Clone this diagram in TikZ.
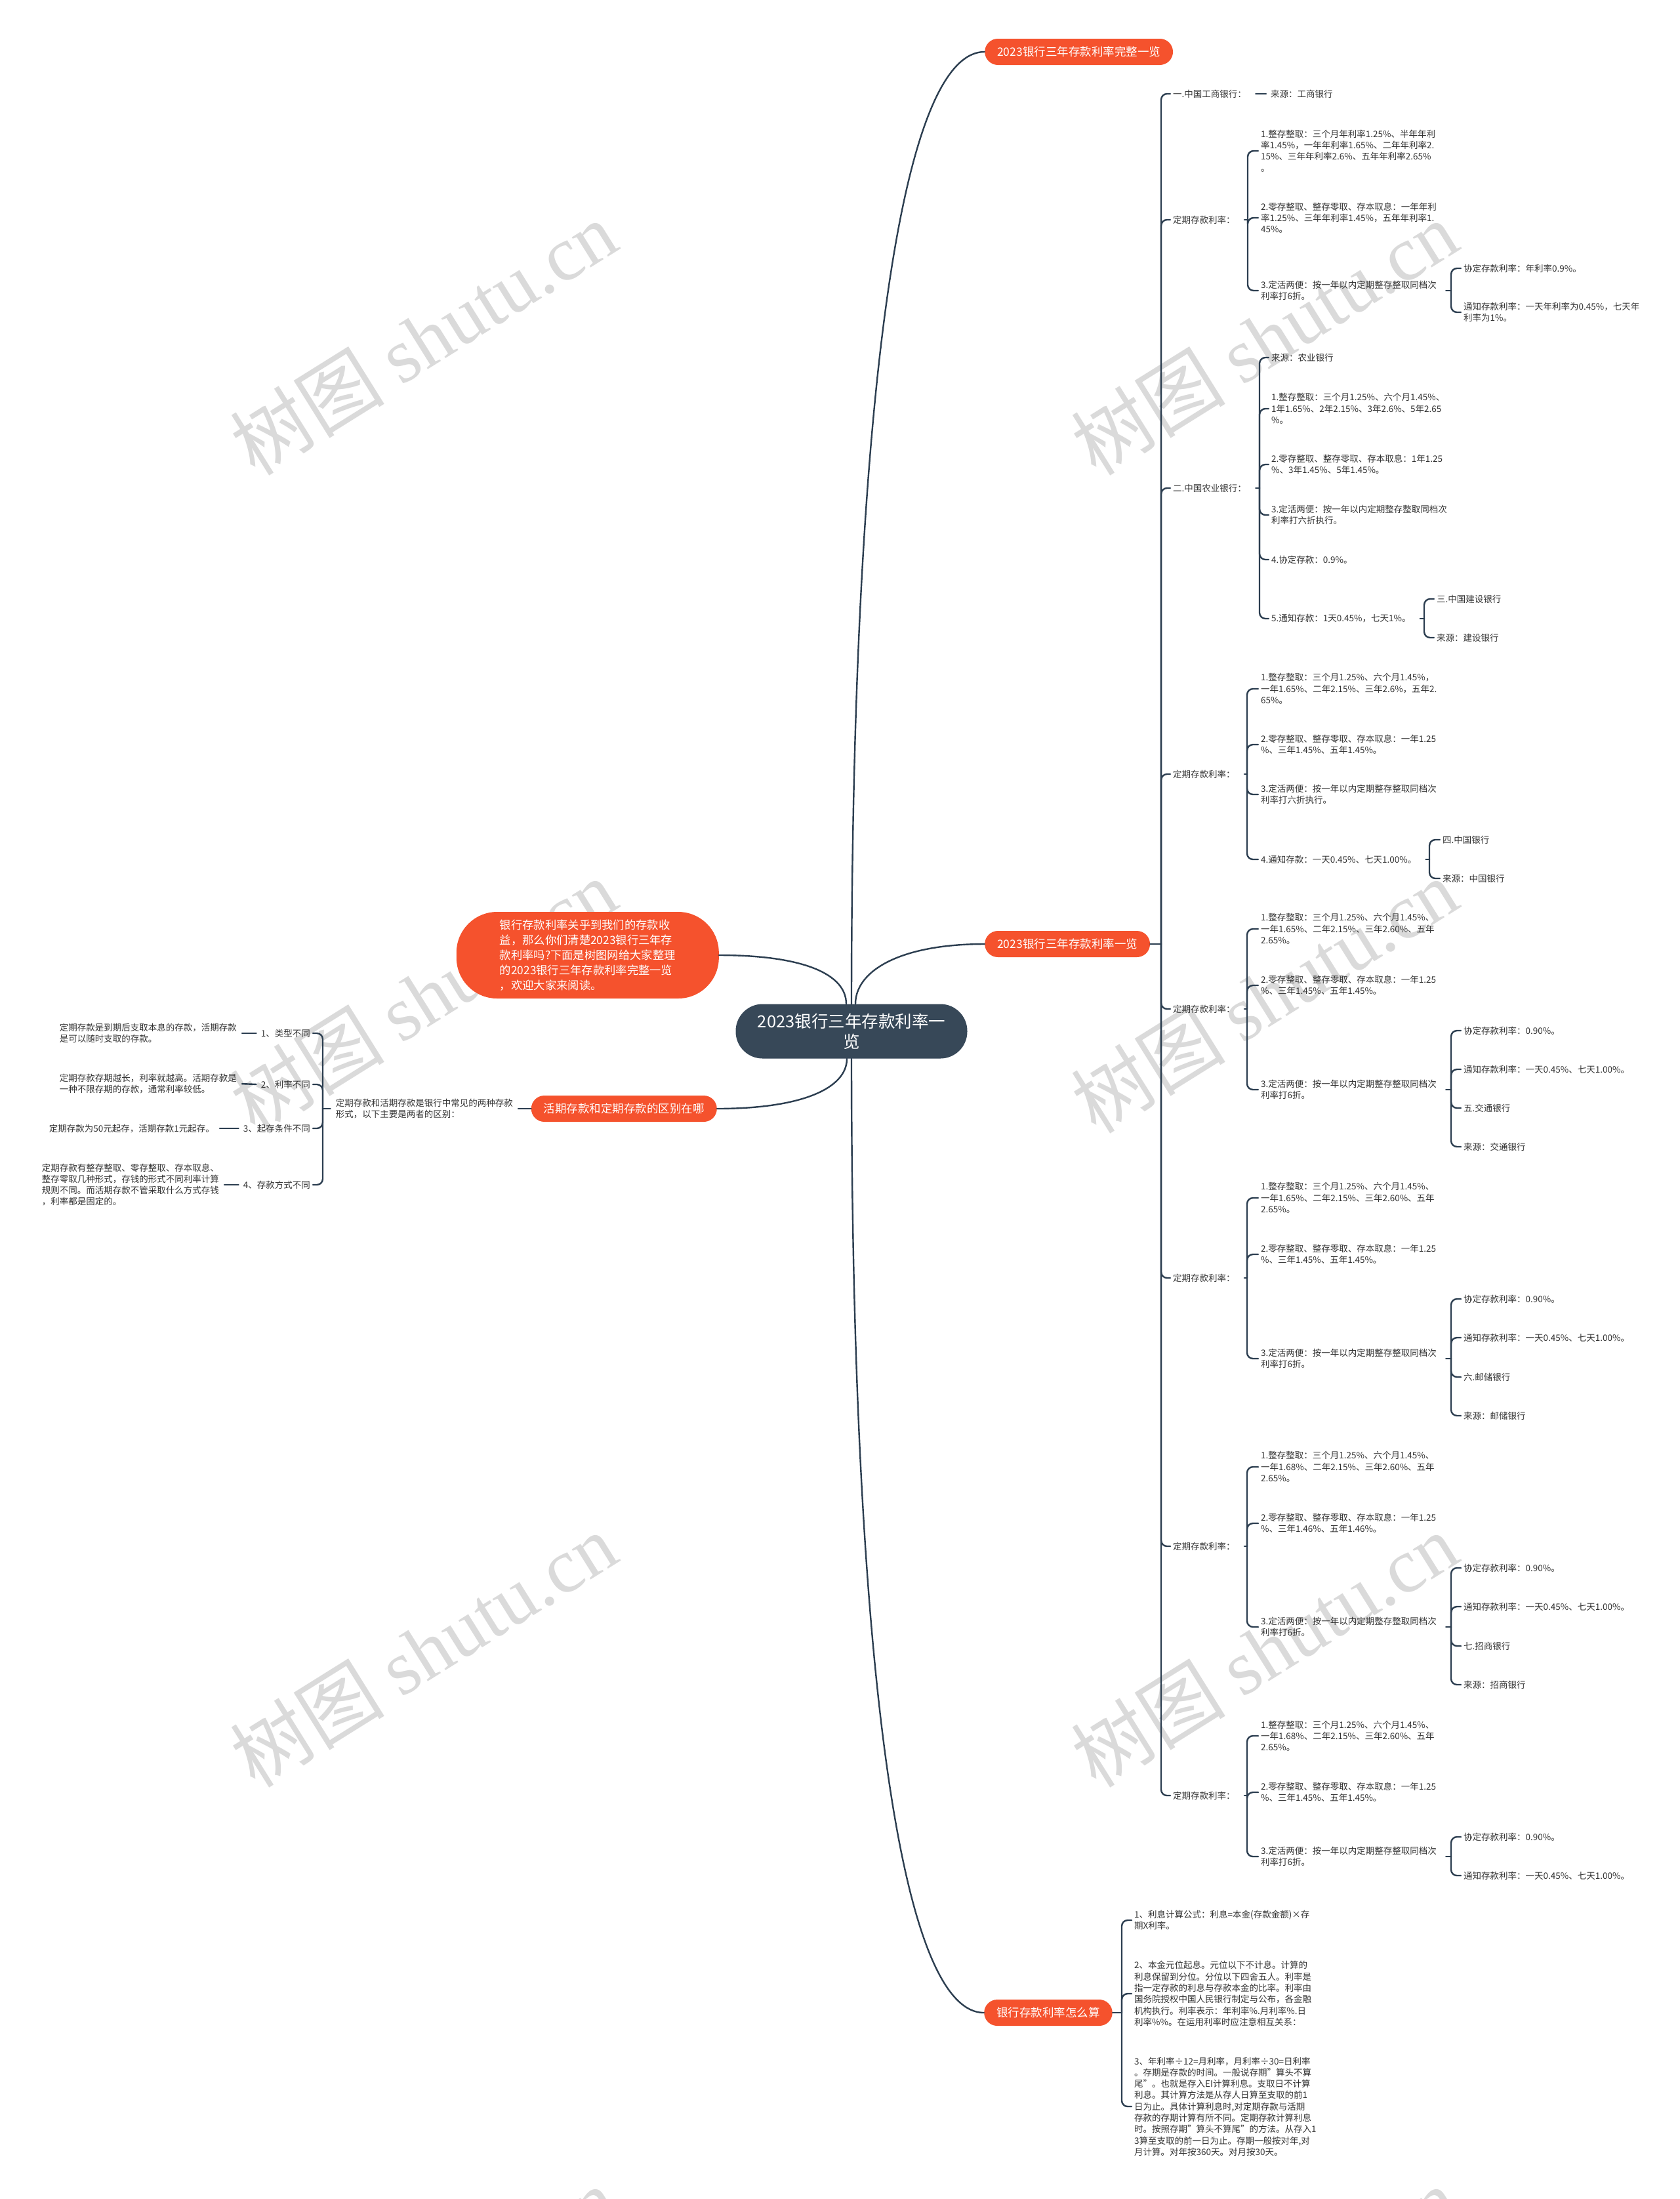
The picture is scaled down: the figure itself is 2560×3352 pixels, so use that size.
\documentclass[tikz,border=0pt]{standalone}
\usepackage{fontspec}
\setmainfont{Noto Sans CJK SC}
\newfontfamily\wmfont{Liberation Serif}
\definecolor{linec}{HTML}{2C3E50}
\definecolor{leafc}{HTML}{333333}
\definecolor{topicc}{HTML}{F5522D}
\definecolor{rootc}{HTML}{374858}
\definecolor{wmc}{HTML}{DADADA}

\begin{document}
\begin{tikzpicture}[x=1pt,y=-1pt]
\tikzset{leaf/.style={anchor=west, inner xsep=4pt, inner ysep=0pt, align=left, text=leafc, font=\fontsize{13.5}{17.3}\selectfont},
  leafl/.style={leaf, anchor=east},
  topic/.style={fill=topicc, text=white, rounded corners=20pt, minimum height=40pt, inner xsep=19pt, inner ysep=0pt, font=\fontsize{17.5}{21}\selectfont},
  intro/.style={topic, minimum width=400pt, minimum height=132pt, rounded corners=62pt, align=left, font=\fontsize{17.3}{23}\selectfont},
  root/.style={fill=rootc, text=white, rounded corners=41pt, minimum width=353pt, minimum height=83pt, align=center, font=\fontsize{25.5}{31}\selectfont},
  conn/.style={draw=linec, line width=2.4pt, line cap=round},
  curl/.style={conn, rounded corners=9pt},
  wmark/.style={text=wmc, rotate=32, font=\fontsize{118}{118}\selectfont}}
\path[use as bounding box, fill=white] (0,0) rectangle (2560,3352);
\node[wmark] (wm1) at (645,515) {树图 {\wmfont shutu.cn}};
\node[wmark] (wm2) at (1927,515) {树图 {\wmfont shutu.cn}};
\node[wmark] (wm3) at (645,1518) {树图 {\wmfont shutu.cn}};
\node[wmark] (wm4) at (1927,1518) {树图 {\wmfont shutu.cn}};
\node[wmark] (wm5) at (645,2515) {树图 {\wmfont shutu.cn}};
\node[wmark] (wm6) at (1927,2515) {树图 {\wmfont shutu.cn}};
\node[wmark] (wm7) at (645,3512) {树图 {\wmfont shutu.cn}};
\node[wmark] (wm8) at (1927,3512) {树图 {\wmfont shutu.cn}};

\node[root] (root) at (1298,1572) {2023银行三年存款利率一\\览};
\node[topic, anchor=west] (full) at (1501,79) {2023银行三年存款利率完整一览};
\node[topic, anchor=west] (list) at (1501,1439) {2023银行三年存款利率一览};
\node[topic, anchor=west] (calc) at (1500,3068) {银行存款利率怎么算};
\node[intro, anchor=east] (intro) at (1096,1456) {银行存款利率关乎到我们的存款收\\益，那么你们清楚2023银行三年存\\款利率吗?下面是树图网给大家整理\\的2023银行三年存款利率完整一览\\，欢迎大家来阅读。};
\node[topic, anchor=east] (diff) at (1093,1690) {活期存款和定期存款的区别在哪};

\node[leaf] (icbc) at (1784,143) {一.中国工商银行：};
\node[leaf] (icbcsrc) at (1933,143) {来源：工商银行};
\node[leaf] (fixa) at (1784,335) {定期存款利率：};
\node[leaf] (fixa1) at (1918,230) {1.整存整取：三个月年利率1.25\%、半年年利\\率1.45\%，一年年利率1.65\%、二年年利率2.\\15\%、三年年利率2.6\%、五年年利率2.65\%\\。};
\node[leaf] (fixa2) at (1918,332) {2.零存整取、整存零取、存本取息：一年年利\\率1.25\%、三年年利率1.45\%，五年年利率1.\\45\%。};
\node[leaf] (fixa3) at (1918,443) {3.定活两便：按一年以内定期整存整取同档次\\利率打6折。};
\node[leaf] (fixa3a) at (2227,409) {协定存款利率：年利率0.9\%。};
\node[leaf] (fixa3b) at (2227,476) {通知存款利率：一天年利率为0.45\%，七天年\\利率为1\%。};

\node[leaf] (abc) at (1784,744) {二.中国农业银行：};
\node[leaf] (abcsrc) at (1934,545) {来源：农业银行};
\node[leaf] (abc1) at (1934,623) {1.整存整取：三个月1.25\%、六个月1.45\%、\\1年1.65\%、2年2.15\%、3年2.6\%、5年2.65\\\%。};
\node[leaf] (abc2) at (1934,708) {2.零存整取、整存零取、存本取息：1年1.25\\\%、3年1.45\%、5年1.45\%。};
\node[leaf] (abc3) at (1934,785) {3.定活两便：按一年以内定期整存整取同档次\\利率打六折执行。};
\node[leaf] (abc4) at (1934,853) {4.协定存款：0.9\%。};
\node[leaf] (abc5) at (1934,943) {5.通知存款：1天0.45\%，七天1\%。};
\node[leaf] (ccb) at (2186,913) {三.中国建设银行};
\node[leaf] (ccbsrc) at (2186,972) {来源：建设银行};

\node[leaf] (fixb) at (1784,1180) {定期存款利率：};
\node[leaf] (fixb1) at (1918,1050) {1.整存整取：三个月1.25\%、六个月1.45\%，\\一年1.65\%、二年2.15\%、三年2.6\%，五年2.\\65\%。};
\node[leaf] (fixb2) at (1918,1135) {2.零存整取、整存零取、存本取息：一年1.25\\\%、三年1.45\%、五年1.45\%。};
\node[leaf] (fixb3) at (1918,1211) {3.定活两便：按一年以内定期整存整取同档次\\利率打六折执行。};
\node[leaf] (fixb4) at (1918,1310) {4.通知存款：一天0.45\%、七天1.00\%。};
\node[leaf] (boc) at (2195,1280) {四.中国银行};
\node[leaf] (bocsrc) at (2195,1339) {来源：中国银行};

\node[leaf] (fixc) at (1784,1538) {定期存款利率：};
\node[leaf] (fixc1) at (1918,1416) {1.整存整取：三个月1.25\%、六个月1.45\%、\\一年1.65\%、二年2.15\%、三年2.60\%、五年\\2.65\%。};
\node[leaf] (fixc2) at (1918,1502) {2.零存整取、整存零取、存本取息：一年1.25\\\%、三年1.45\%、五年1.45\%。};
\node[leaf] (fixc3) at (1918,1661) {3.定活两便：按一年以内定期整存整取同档次\\利率打6折。};
\node[leaf] (fixc3a) at (2227,1571) {协定存款利率：0.90\%。};
\node[leaf] (fixc3b) at (2227,1630) {通知存款利率：一天0.45\%、七天1.00\%。};
\node[leaf] (bocom) at (2227,1689) {五.交通银行};
\node[leaf] (bocomsrc) at (2227,1748) {来源：交通银行};

\node[leaf] (fixd) at (1784,1948) {定期存款利率：};
\node[leaf] (fixd1) at (1918,1826) {1.整存整取：三个月1.25\%、六个月1.45\%、\\一年1.65\%、二年2.15\%、三年2.60\%、五年\\2.65\%。};
\node[leaf] (fixd2) at (1918,1912) {2.零存整取、整存零取、存本取息：一年1.25\\\%、三年1.45\%、五年1.45\%。};
\node[leaf] (fixd3) at (1918,2071) {3.定活两便：按一年以内定期整存整取同档次\\利率打6折。};
\node[leaf] (fixd3a) at (2227,1980) {协定存款利率：0.90\%。};
\node[leaf] (fixd3b) at (2227,2039) {通知存款利率：一天0.45\%、七天1.00\%。};
\node[leaf] (psbc) at (2227,2099) {六.邮储银行};
\node[leaf] (psbcsrc) at (2227,2158) {来源：邮储银行};

\node[leaf] (fixe) at (1784,2357) {定期存款利率：};
\node[leaf] (fixe1) at (1918,2236) {1.整存整取：三个月1.25\%、六个月1.45\%、\\一年1.68\%、二年2.15\%、三年2.60\%、五年\\2.65\%。};
\node[leaf] (fixe2) at (1918,2322) {2.零存整取、整存零取、存本取息：一年1.25\\\%、三年1.46\%、五年1.46\%。};
\node[leaf] (fixe3) at (1918,2480) {3.定活两便：按一年以内定期整存整取同档次\\利率打6折。};
\node[leaf] (fixe3a) at (2227,2390) {协定存款利率：0.90\%。};
\node[leaf] (fixe3b) at (2227,2449) {通知存款利率：一天0.45\%、七天1.00\%。};
\node[leaf] (cmb) at (2227,2509) {七.招商银行};
\node[leaf] (cmbsrc) at (2227,2568) {来源：招商银行};

\node[leaf] (fixf) at (1784,2737) {定期存款利率：};
\node[leaf] (fixf1) at (1918,2646) {1.整存整取：三个月1.25\%、六个月1.45\%、\\一年1.68\%、二年2.15\%、三年2.60\%、五年\\2.65\%。};
\node[leaf] (fixf2) at (1918,2732) {2.零存整取、整存零取、存本取息：一年1.25\\\%、三年1.45\%、五年1.45\%。};
\node[leaf] (fixf3) at (1918,2830) {3.定活两便：按一年以内定期整存整取同档次\\利率打6折。};
\node[leaf] (fixf3a) at (2227,2800) {协定存款利率：0.90\%。};
\node[leaf] (fixf3b) at (2227,2859) {通知存款利率：一天0.45\%、七天1.00\%。};

\node[leaf] (calc1) at (1725,2927) {1、利息计算公式：利息=本金(存款金额)×存\\期X利率。};
\node[leaf] (calc2) at (1725,3039) {2、本金元位起息。元位以下不计息。计算的\\利息保留到分位。分位以下四舍五人。利率是\\指一定存款的利息与存款本金的比率。利率由\\国务院授权中国人民银行制定与公布，各金融\\机构执行。利率表示：年利率\%.月利率\%.日\\利率\%\%。在运用利率时应注意相互关系：};
\node[leaf] (calc3) at (1725,3211) {3、年利率÷12=月利率，月利率÷30=日利率\\。存期是存款的时间。一般说存期"算头不算\\尾"。也就是存入EI计算利息。支取日不计算\\利息。其计算方法是从存人日算至支取的前1\\日为止。具体计算利息时,对定期存款与活期\\存款的存期计算有所不同。定期存款计算利息\\时。按照存期"算头不算尾"的方法。从存入1\\3算至支取的前一日为止。存期一般按对年,对\\月计算。对年按360天。对月按30天。};

\node[leafl] (diffnote) at (786,1690) {定期存款和活期存款是银行中常见的两种存款\\形式，以下主要是两者的区别：};
\node[leafl] (kind1) at (477,1575) {1、类型不同};
\node[leafl] (kind1n) at (365,1575) {定期存款是到期后支取本息的存款，活期存款\\是可以随时支取的存款。};
\node[leafl] (kind2) at (477,1653) {2、利率不同};
\node[leafl] (kind2n) at (365,1652) {定期存款存期越长，利率就越高。活期存款是\\一种不限存期的存款，通常利率较低。};
\node[leafl] (kind3) at (477,1720) {3、起存条件不同};
\node[leafl] (kind3n) at (331,1720) {定期存款为50元起存，活期存款1元起存。};
\node[leafl] (kind4) at (477,1806) {4、存款方式不同};
\node[leafl] (kind4n) at (338,1806) {定期存款有整存整取、零存整取、存本取息、\\整存零取几种形式，存钱的形式不同利率计算\\规则不同。而活期存款不管采取什么方式存钱\\，利率都是固定的。};

\coordinate (jlist) at (1770,1439);
\coordinate (jfixa) at (1902,335);
\coordinate (jfixa3) at (2212,443);
\coordinate (jabc) at (1920,744);
\coordinate (jabc5) at (2171,943);
\coordinate (jfixb) at (1901,1180);
\coordinate (jfixb4) at (2179,1310);
\coordinate (jfixc) at (1901,1538);
\coordinate (jfixc3) at (2212,1661);
\coordinate (jfixd) at (1901,1948);
\coordinate (jfixd3) at (2212,2071);
\coordinate (jfixe) at (1901,2357);
\coordinate (jfixe3) at (2212,2480);
\coordinate (jfixf) at (1901,2737);
\coordinate (jfixf3) at (2212,2830);
\coordinate (jcalc) at (1710,3068);
\coordinate (jdiff) at (492,1690);

\draw[conn] (root.north) .. controls +(0,-830) and +(-140,0) .. (full.west);
\draw[conn] ([xshift=6pt]root.north) .. controls +(0,-50) and +(-130,0) .. (list.west);
\draw[conn] ([xshift=-8pt]root.north) .. controls +(0,-45) and +(130,0) .. (intro.east);
\draw[conn] (root.south) .. controls +(0,830) and +(-140,0) .. (calc.west);
\draw[conn] ([xshift=-7pt]root.south) .. controls +(0,45) and +(130,0) .. (diff.east);

\draw[conn] (list.east) -- (jlist);
\draw[curl] (jlist) |- (icbc.west);
\draw[curl] (jlist) |- (fixa.west);
\draw[curl] (jlist) |- (abc.west);
\draw[curl] (jlist) |- (fixb.west);
\draw[curl] (jlist) |- (fixc.west);
\draw[curl] (jlist) |- (fixd.west);
\draw[curl] (jlist) |- (fixe.west);
\draw[curl] (jlist) |- (fixf.west);
\draw[conn, shorten <=10pt, shorten >=3pt] (icbc.east) -- (icbcsrc.west);

\draw[conn, shorten <=10pt] (fixa.east) -- (jfixa);
\draw[curl] (jfixa) |- (fixa1.west);
\draw[curl] (jfixa) |- (fixa2.west);
\draw[curl] (jfixa) |- (fixa3.west);
\draw[conn, shorten <=10pt] (fixa3.east) -- (jfixa3);
\draw[curl] (jfixa3) |- (fixa3a.west);
\draw[curl] (jfixa3) |- (fixa3b.west);

\draw[conn, shorten <=10pt] (abc.east) -- (jabc);
\draw[curl] (jabc) |- (abcsrc.west);
\draw[curl] (jabc) |- (abc1.west);
\draw[curl] (jabc) |- (abc2.west);
\draw[curl] (jabc) |- (abc3.west);
\draw[curl] (jabc) |- (abc4.west);
\draw[curl] (jabc) |- (abc5.west);
\draw[conn, shorten <=10pt] (abc5.east) -- (jabc5);
\draw[curl] (jabc5) |- (ccb.west);
\draw[curl] (jabc5) |- (ccbsrc.west);

\draw[conn, shorten <=10pt] (fixb.east) -- (jfixb);
\draw[curl] (jfixb) |- (fixb1.west);
\draw[curl] (jfixb) |- (fixb2.west);
\draw[curl] (jfixb) |- (fixb3.west);
\draw[curl] (jfixb) |- (fixb4.west);
\draw[conn, shorten <=10pt] (fixb4.east) -- (jfixb4);
\draw[curl] (jfixb4) |- (boc.west);
\draw[curl] (jfixb4) |- (bocsrc.west);

\draw[conn, shorten <=10pt] (fixc.east) -- (jfixc);
\draw[curl] (jfixc) |- (fixc1.west);
\draw[curl] (jfixc) |- (fixc2.west);
\draw[curl] (jfixc) |- (fixc3.west);
\draw[conn, shorten <=10pt] (fixc3.east) -- (jfixc3);
\draw[curl] (jfixc3) |- (fixc3a.west);
\draw[curl] (jfixc3) |- (fixc3b.west);
\draw[curl] (jfixc3) |- (bocom.west);
\draw[curl] (jfixc3) |- (bocomsrc.west);

\draw[conn, shorten <=10pt] (fixd.east) -- (jfixd);
\draw[curl] (jfixd) |- (fixd1.west);
\draw[curl] (jfixd) |- (fixd2.west);
\draw[curl] (jfixd) |- (fixd3.west);
\draw[conn, shorten <=10pt] (fixd3.east) -- (jfixd3);
\draw[curl] (jfixd3) |- (fixd3a.west);
\draw[curl] (jfixd3) |- (fixd3b.west);
\draw[curl] (jfixd3) |- (psbc.west);
\draw[curl] (jfixd3) |- (psbcsrc.west);

\draw[conn, shorten <=10pt] (fixe.east) -- (jfixe);
\draw[curl] (jfixe) |- (fixe1.west);
\draw[curl] (jfixe) |- (fixe2.west);
\draw[curl] (jfixe) |- (fixe3.west);
\draw[conn, shorten <=10pt] (fixe3.east) -- (jfixe3);
\draw[curl] (jfixe3) |- (fixe3a.west);
\draw[curl] (jfixe3) |- (fixe3b.west);
\draw[curl] (jfixe3) |- (cmb.west);
\draw[curl] (jfixe3) |- (cmbsrc.west);

\draw[conn, shorten <=10pt] (fixf.east) -- (jfixf);
\draw[curl] (jfixf) |- (fixf1.west);
\draw[curl] (jfixf) |- (fixf2.west);
\draw[curl] (jfixf) |- (fixf3.west);
\draw[conn, shorten <=10pt] (fixf3.east) -- (jfixf3);
\draw[curl] (jfixf3) |- (fixf3a.west);
\draw[curl] (jfixf3) |- (fixf3b.west);

\draw[conn] (calc.east) -- (jcalc);
\draw[curl] (jcalc) |- (calc1.west);
\draw[curl] (jcalc) |- (calc2.west);
\draw[curl] (jcalc) |- (calc3.west);

\draw[conn, shorten >=4pt] (diff.west) -- (diffnote.east);
\draw[conn, shorten <=4pt] (diffnote.west) -- (jdiff);
\draw[curl] (jdiff) |- (kind1.east);
\draw[curl] (jdiff) |- (kind2.east);
\draw[curl] (jdiff) |- (kind3.east);
\draw[curl] (jdiff) |- (kind4.east);
\draw[conn, shorten <=3pt, shorten >=4pt] (kind1.west) -- (kind1n.east);
\draw[conn, shorten <=3pt, shorten >=4pt] (kind2.west) -- (kind2n.east);
\draw[conn, shorten <=3pt, shorten >=4pt] (kind3.west) -- (kind3n.east);
\draw[conn, shorten <=3pt, shorten >=4pt] (kind4.west) -- (kind4n.east);
\end{tikzpicture}
\end{document}
